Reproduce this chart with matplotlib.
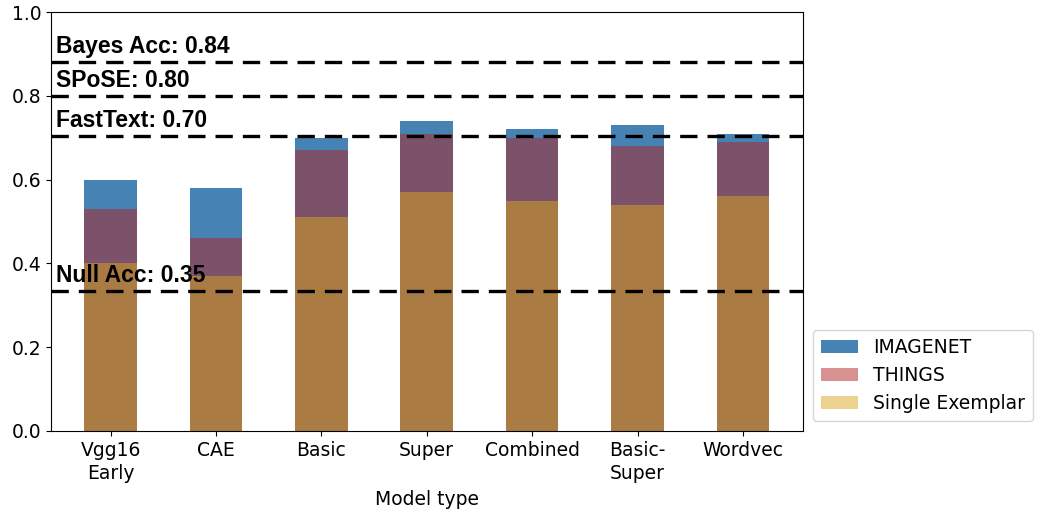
import matplotlib.pyplot as plt
import numpy as np

models = ['Vgg16\nEarly', 'CAE', 'Basic', 'Super', 'Combined', 'Basic-\nSuper', 'Wordvec']
imagenet = [0.60, 0.58, 0.70, 0.74, 0.72, 0.73, 0.71]
things = [0.53, 0.46, 0.67, 0.71, 0.70, 0.68, 0.69]
single = [0.40, 0.37, 0.51, 0.57, 0.55, 0.54, 0.56]

ref_names = ['Bayes Acc: 0.84', 'SPoSE: 0.80', 'FastText: 0.70', 'Null Acc: 0.35']
ref_lines = [0.881, 0.80, 0.704, 0.333]

fig = plt.figure(figsize=(10.39, 5.14), dpi=100)
ax = fig.add_axes([51/1039, 1 - 431/514, 752/1039, 419/514])

x = np.arange(len(models))
fs = 13.5
ax.bar(x, imagenet, width=0.5, color='steelblue', label='IMAGENET')
ax.bar(x, things, width=0.5, color='firebrick', alpha=0.5, label='THINGS')
ax.bar(x, single, width=0.5, color='goldenrod', alpha=0.5, label='Single Exemplar')

# reference accuracies as dashed lines with bold labels
for name, val in zip(ref_names, ref_lines):
    ax.axhline(val, color='black', lw=2.4, linestyle=(0, (5.2, 3.0)))
    ax.text(0.007, val + 0.022, name, transform=ax.get_yaxis_transform(),
            fontsize=16.5, fontweight='bold', family='Liberation Sans', va='baseline')

ax.set_xlim(-0.565, 6.57)
ax.set_ylim(0, 1.0)
ax.set_xticks(x)
ax.set_xticklabels(models, fontsize=fs, linespacing=1.3)
ax.set_yticks([0.0, 0.2, 0.4, 0.6, 0.8, 1.0])
ax.set_yticklabels(['0.0', '0.2', '0.4', '0.6', '0.8', '1.0'], fontsize=fs)
ax.set_xlabel('Model type', fontsize=fs, labelpad=5)

ax.legend(loc='lower left', bbox_to_anchor=(1.0133, 0.024), borderaxespad=0,
          fontsize=fs, handlelength=2.0)

plt.savefig('out.png', dpi=100)
